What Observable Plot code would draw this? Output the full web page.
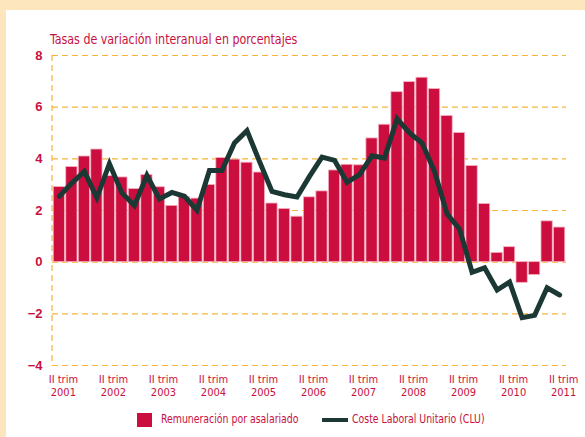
<!DOCTYPE html>
<html>
<head>
<meta charset="utf-8">
<script src="https://cdn.jsdelivr.net/npm/d3@7"></script>
<script src="https://cdn.jsdelivr.net/npm/@observablehq/plot@0.6"></script>
<style>
  html, body { margin: 0; padding: 0; }
  body { width: 585px; height: 437px; background: #fde6bd; position: relative; overflow: hidden;
         font-family: "DejaVu Sans Condensed", "DejaVu Sans", sans-serif; }
  #panel { position: absolute; left: 6px; top: 10px; width: 579px; height: 427px; background: #ffffff; }
  #title { position: absolute; left: 50px; top: 31px; font-size: 14px; color: #c8103e; white-space: nowrap;
           transform: scaleX(0.88); transform-origin: left center; }
  #chart { position: absolute; left: 0; top: 45px; }
  .leg { position: absolute; top: 411px; height: 16px; line-height: 16px; font-size: 13px; color: #c8103e; white-space: nowrap; }
  .legtxt { display: inline-block; transform: scaleX(0.8); transform-origin: left center; }
  .sw { position: absolute; }
</style>
</head>
<body>
<div id="panel"></div>
<div id="title">Tasas de variación interanual en porcentajes</div>
<div id="chart"></div>
<div class="leg" style="left:137px;width:180px"><span class="sw" style="left:0;top:2px;width:15px;height:14px;background:#cc0e3f;"></span><span class="legtxt" style="margin-left:24px">Remuneración por asalariado</span></div>
<div class="leg" style="left:322px;width:200px"><span class="sw" style="left:0;top:7px;width:26px;height:4px;background:#1c3834;"></span><span class="legtxt" style="margin-left:30px">Coste Laboral Unitario (CLU)</span></div>
<script>
const periods = [
  "II-2001","III-2001","IV-2001",
  "I-2002","II-2002","III-2002","IV-2002",
  "I-2003","II-2003","III-2003","IV-2003",
  "I-2004","II-2004","III-2004","IV-2004",
  "I-2005","II-2005","III-2005","IV-2005",
  "I-2006","II-2006","III-2006","IV-2006",
  "I-2007","II-2007","III-2007","IV-2007",
  "I-2008","II-2008","III-2008","IV-2008",
  "I-2009","II-2009","III-2009","IV-2009",
  "I-2010","II-2010","III-2010","IV-2010",
  "I-2011","II-2011"
];
const remuneracion = [2.91, 3.68, 4.09, 4.36, 3.33, 3.28, 2.83, 3.37, 2.90, 2.18,
  2.51, 2.46, 2.99, 4.03, 3.97, 3.85, 3.47, 2.27, 2.06, 1.76,
  2.51, 2.74, 3.55, 3.77, 3.75, 4.79, 5.32, 6.58, 6.97, 7.14,
  6.70, 5.66, 5.00, 3.72, 2.25, 0.36, 0.58, -0.80, -0.50, 1.58, 1.34];
const clu = [2.55, 3.06, 3.51, 2.49, 3.81, 2.68, 2.19, 3.36, 2.45, 2.70,
  2.55, 2.01, 3.55, 3.55, 4.61, 5.09, 3.90, 2.74, 2.61, 2.52,
  3.32, 4.07, 3.94, 3.09, 3.39, 4.12, 4.03, 5.55, 5.00, 4.61,
  3.51, 1.87, 1.28, -0.39, -0.22, -1.08, -0.77, -2.15, -2.06, -0.99, -1.27];
const tickPeriods = ["II-2001","II-2002","II-2003","II-2004","II-2005","II-2006",
  "II-2007","II-2008","II-2009","II-2010","II-2011"];
const yTicks = [-4, -2, 0, 2, 4, 6, 8];

const red = "#c8103e";
const gridColor = "#f6b53a";
const rows = periods.map((p, i) => ({period: p, rem: remuneracion[i], clu: clu[i]}));

const chart = Plot.plot({
  width: 585,
  height: 360,
  marginLeft: 52,
  marginRight: 19,
  marginTop: 10,
  marginBottom: 40,
  style: {background: "transparent", color: red, fontFamily: "'DejaVu Sans Condensed', 'DejaVu Sans', sans-serif"},
  x: {domain: periods, padding: 0.1, round: false, label: null},
  y: {domain: [-4, 8], label: null},
  marks: [
    Plot.ruleY(yTicks, {stroke: gridColor, strokeDasharray: "6,4", strokeWidth: 1.2}),
    Plot.barY(rows, {x: "period", y: "rem", fill: "#cc0e3f", stroke: "#f3b1c1", strokeWidth: 0.8}),
    Plot.line(rows, {x: "period", y: "clu", stroke: "#1c3834", strokeWidth: 5, strokeLinejoin: "miter", strokeMiterlimit: 4}),
    Plot.axisY({ticks: yTicks, tickSize: 0, tickPadding: 10, fontSize: 13, fontWeight: "bold",
      fontFamily: "'Liberation Sans', sans-serif", fill: red, label: null}),
    Plot.axisX({ticks: tickPeriods, tickSize: 0, tickPadding: 8, fontSize: 11, lineHeight: 1.2, dx: 4,
      fill: red, label: null, tickFormat: d => "II trim\n" + d.split("-")[1]})
  ]
});

// left dashed border of the plotting area, positioned with the chart's own scales
const xs = chart.scale("x"), ys = chart.scale("y");
d3.select(chart).append("line")
  .attr("x1", xs.range[0]).attr("x2", xs.range[0])
  .attr("y1", ys.apply(8)).attr("y2", ys.apply(-4))
  .attr("stroke", gridColor).attr("stroke-width", 1.2).attr("stroke-dasharray", "6,4")
  .lower();

document.getElementById("chart").appendChild(chart);
</script>
</body>
</html>
